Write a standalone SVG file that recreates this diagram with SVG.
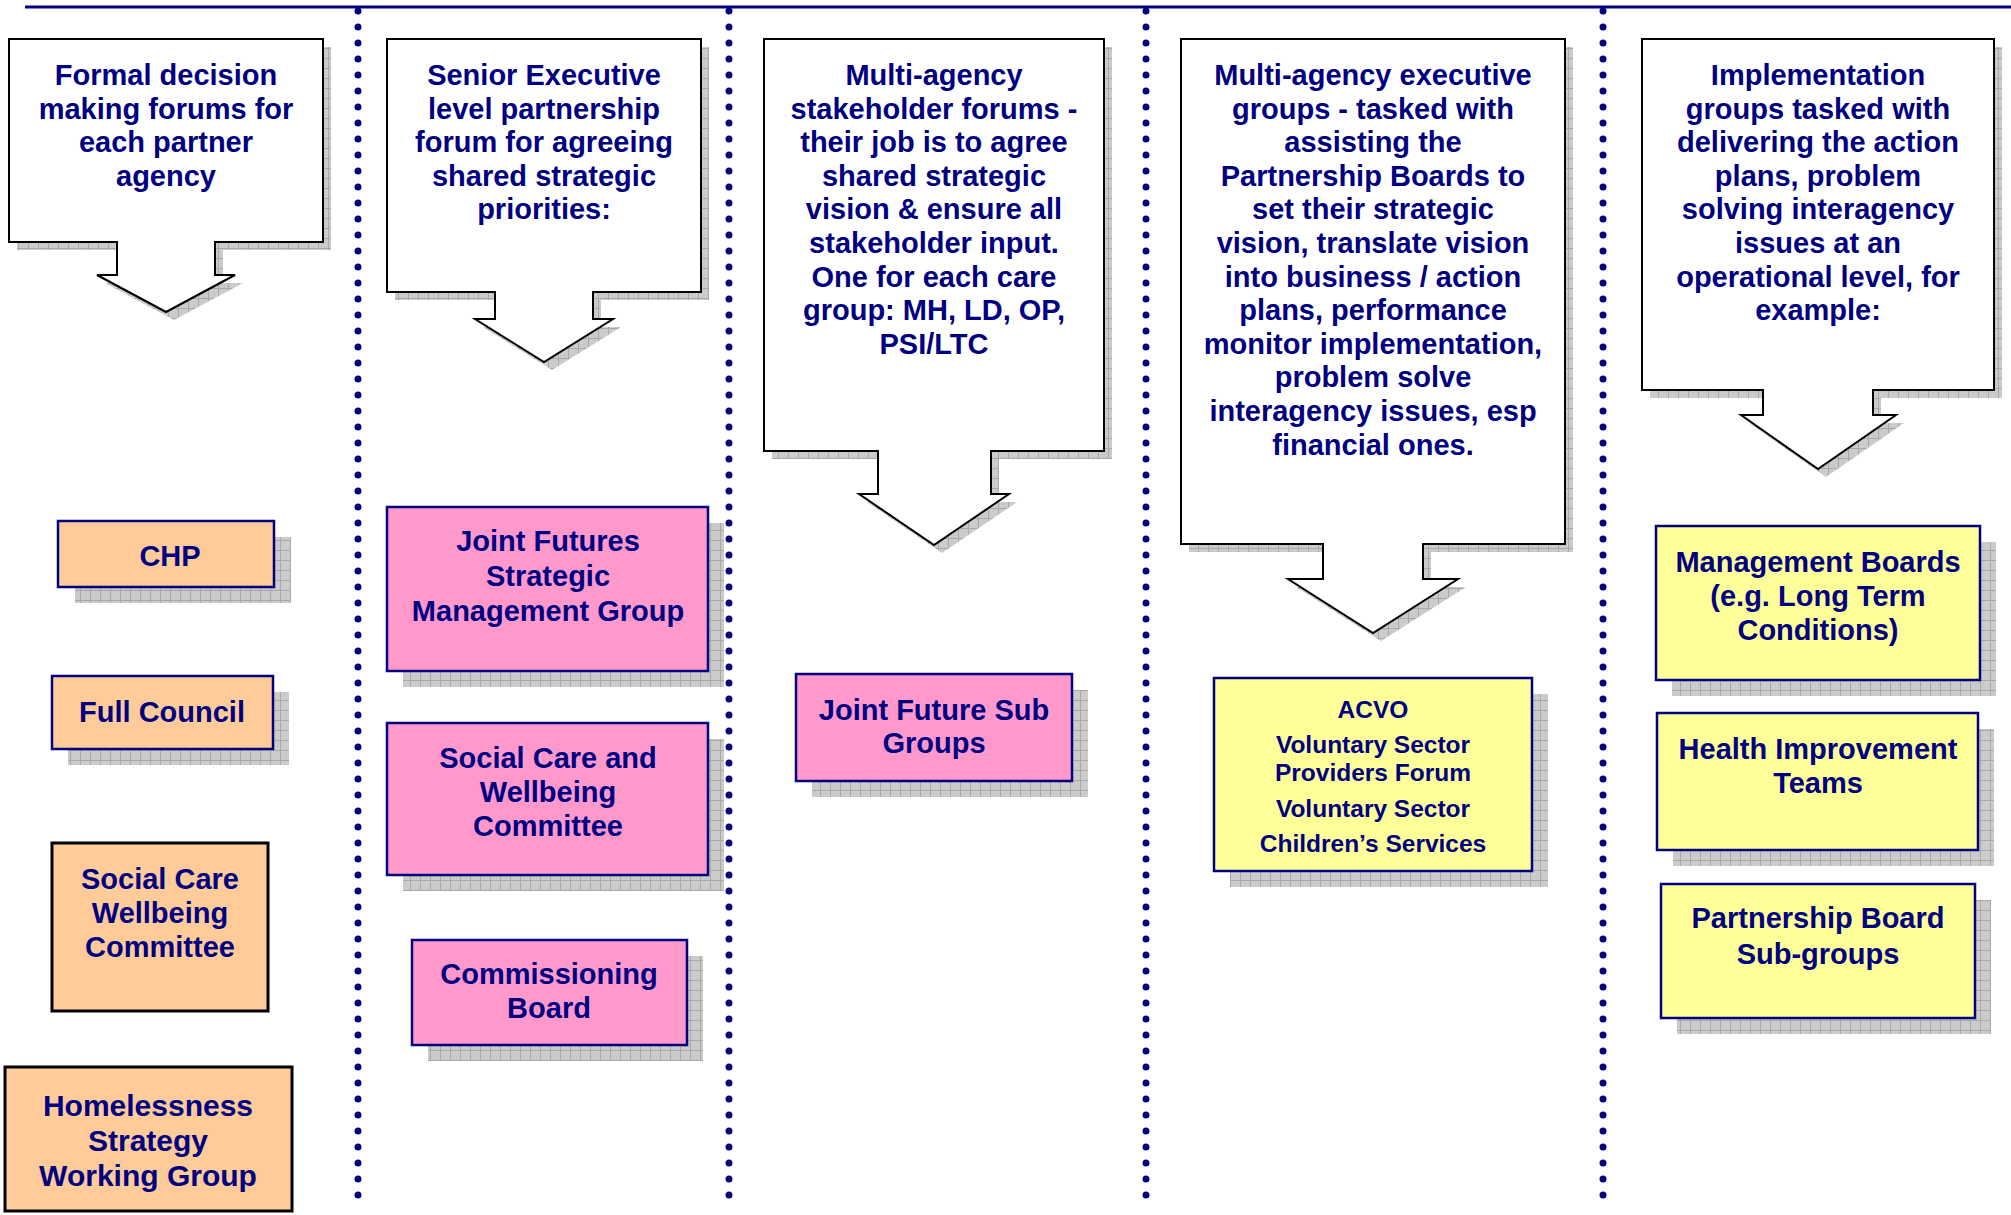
<svg xmlns="http://www.w3.org/2000/svg" width="2011" height="1215" viewBox="0 0 2011 1215">
  <style>
    .t { font-family: "Liberation Sans", Arial, sans-serif; font-weight: bold; font-size: 29px; fill: #000080; text-anchor: middle; }
    .t30 { font-size: 30px; }
    .t24 { font-size: 24.5px; }
    .callout { fill: #ffffff; stroke: #000000; stroke-width: 2; stroke-linejoin: miter; }
    .shadow { fill: url(#hatch); stroke: none; }
    .orange { fill: #ffcc99; }
    .pink { fill: #ff99cc; }
    .yellow { fill: #ffff99; }
    .navyEdge { stroke: #000080; stroke-width: 2.5; }
    .blackEdge { stroke: #000000; stroke-width: 3; }
    .divider { stroke: #000080; stroke-width: 7; stroke-linecap: round; stroke-dasharray: 0 16; fill: none; }
  </style>
  <defs>
    <pattern id="hatch" patternUnits="userSpaceOnUse" width="10" height="10">
      <rect width="10" height="10" fill="#cbcbcb"/>
      <path d="M0 0.5H10M0.5 0V10" stroke="#a9a9a9" stroke-width="1"/>
    </pattern>
  </defs>

  <rect width="2011" height="1215" fill="#ffffff"/>

  <!-- header rule and column dividers -->
  <g id="dividers">
    <line x1="25" y1="7" x2="2011" y2="7" stroke="#000080" stroke-width="3"/>
    <line class="divider" x1="358" y1="11" x2="358" y2="1197"/>
    <line class="divider" x1="729" y1="11" x2="729" y2="1197"/>
    <line class="divider" x1="1146" y1="11" x2="1146" y2="1197"/>
    <line class="divider" x1="1603" y1="11" x2="1603" y2="1197"/>
  </g>

  <!-- column headings: down-arrow callouts -->
  <g id="callout-formal">
    <path class="shadow" transform="translate(8,8)" d="M9,39H323V242H215V275H235L166,312L97,275H117V242H9Z"/>
    <path class="callout" d="M9,39H323V242H215V275H235L166,312L97,275H117V242H9Z"/>
    <text class="t"><tspan x="166" y="85">Formal decision</tspan><tspan x="166" y="118.6">making forums for</tspan><tspan x="166" y="152.2">each partner</tspan><tspan x="166" y="185.8">agency</tspan></text>
  </g>

  <g id="callout-senior">
    <path class="shadow" transform="translate(8,8)" d="M387,39H701V292H593V319H613L544,362L475,319H495V292H387Z"/>
    <path class="callout" d="M387,39H701V292H593V319H613L544,362L475,319H495V292H387Z"/>
    <text class="t"><tspan x="544" y="85">Senior Executive</tspan><tspan x="544" y="118.6">level partnership</tspan><tspan x="544" y="152.2">forum for agreeing</tspan><tspan x="544" y="185.8">shared strategic</tspan><tspan x="544" y="219.4">priorities:</tspan></text>
  </g>

  <g id="callout-stakeholder">
    <path class="shadow" transform="translate(8,8)" d="M764,39H1104V451H991V494H1009L934,545L859,494H878V451H764Z"/>
    <path class="callout" d="M764,39H1104V451H991V494H1009L934,545L859,494H878V451H764Z"/>
    <text class="t"><tspan x="934" y="85">Multi-agency</tspan><tspan x="934" y="118.6">stakeholder forums -</tspan><tspan x="934" y="152.2">their job is to agree</tspan><tspan x="934" y="185.8">shared strategic</tspan><tspan x="934" y="219.4">vision &amp; ensure all</tspan><tspan x="934" y="253">stakeholder input.</tspan><tspan x="934" y="286.6">One for each care</tspan><tspan x="934" y="320.2">group: MH, LD, OP,</tspan><tspan x="934" y="353.8">PSI/LTC</tspan></text>
  </g>

  <g id="callout-executive">
    <path class="shadow" transform="translate(8,8)" d="M1181,39H1565V544H1423V579H1458L1373,633L1288,579H1323V544H1181Z"/>
    <path class="callout" d="M1181,39H1565V544H1423V579H1458L1373,633L1288,579H1323V544H1181Z"/>
    <text class="t"><tspan x="1373" y="85">Multi-agency executive</tspan><tspan x="1373" y="118.6">groups - tasked with</tspan><tspan x="1373" y="152.2">assisting the</tspan><tspan x="1373" y="185.8">Partnership Boards to</tspan><tspan x="1373" y="219.4">set their strategic</tspan><tspan x="1373" y="253">vision, translate vision</tspan><tspan x="1373" y="286.6">into business / action</tspan><tspan x="1373" y="320.2">plans, performance</tspan><tspan x="1373" y="353.8">monitor implementation,</tspan><tspan x="1373" y="387.4">problem solve</tspan><tspan x="1373" y="421">interagency issues, esp</tspan><tspan x="1373" y="454.6">financial ones.</tspan></text>
  </g>

  <g id="callout-implementation">
    <path class="shadow" transform="translate(8,8)" d="M1642,39H1994V390H1873V415H1896L1818,469L1741,415H1763V390H1642Z"/>
    <path class="callout" d="M1642,39H1994V390H1873V415H1896L1818,469L1741,415H1763V390H1642Z"/>
    <text class="t"><tspan x="1818" y="85">Implementation</tspan><tspan x="1818" y="118.6">groups tasked with</tspan><tspan x="1818" y="152.2">delivering the action</tspan><tspan x="1818" y="185.8">plans, problem</tspan><tspan x="1818" y="219.4">solving interagency</tspan><tspan x="1818" y="253">issues at an</tspan><tspan x="1818" y="286.6">operational level, for</tspan><tspan x="1818" y="320.2">example:</tspan></text>
  </g>

  <!-- column 1: partner agency forums -->
  <g id="node-chp">
    <rect class="shadow" x="75" y="537" width="216" height="66"/>
    <rect class="orange navyEdge" x="58" y="521" width="216" height="66"/>
    <text class="t" x="170" y="566">CHP</text>
  </g>
  <g id="node-full-council">
    <rect class="shadow" x="68" y="692" width="221" height="73"/>
    <rect class="orange navyEdge" x="52" y="676" width="221" height="73"/>
    <text class="t" x="162" y="722">Full Council</text>
  </g>
  <g id="node-social-care-wellbeing">
    <rect class="orange blackEdge" x="52" y="843" width="216" height="168"/>
    <text class="t"><tspan x="160" y="889">Social Care</tspan><tspan x="160" y="923">Wellbeing</tspan><tspan x="160" y="957">Committee</tspan></text>
  </g>
  <g id="node-homelessness">
    <rect class="orange blackEdge" x="5" y="1067" width="287" height="144"/>
    <text class="t t30"><tspan x="148" y="1116">Homelessness</tspan><tspan x="148" y="1151">Strategy</tspan><tspan x="148" y="1186">Working Group</tspan></text>
  </g>

  <!-- column 2: senior partnership forums -->
  <g id="node-joint-futures">
    <rect class="shadow" x="403" y="523" width="321" height="164"/>
    <rect class="pink navyEdge" x="387" y="507" width="321" height="164"/>
    <text class="t"><tspan x="548" y="551">Joint Futures</tspan><tspan x="548" y="586">Strategic</tspan><tspan x="548" y="621">Management Group</tspan></text>
  </g>
  <g id="node-social-care-committee">
    <rect class="shadow" x="403" y="739" width="321" height="152"/>
    <rect class="pink navyEdge" x="387" y="723" width="321" height="152"/>
    <text class="t"><tspan x="548" y="768">Social Care and</tspan><tspan x="548" y="802">Wellbeing</tspan><tspan x="548" y="836">Committee</tspan></text>
  </g>
  <g id="node-commissioning">
    <rect class="shadow" x="428" y="956" width="275" height="105"/>
    <rect class="pink navyEdge" x="412" y="940" width="275" height="105"/>
    <text class="t"><tspan x="549" y="984">Commissioning</tspan><tspan x="549" y="1018">Board</tspan></text>
  </g>

  <!-- column 3: stakeholder forums -->
  <g id="node-joint-future-sub">
    <rect class="shadow" x="812" y="690" width="276" height="107"/>
    <rect class="pink navyEdge" x="796" y="674" width="276" height="107"/>
    <text class="t"><tspan x="934" y="720">Joint Future Sub</tspan><tspan x="934" y="753">Groups</tspan></text>
  </g>

  <!-- column 4: executive groups -->
  <g id="node-acvo">
    <rect class="shadow" x="1230" y="694" width="318" height="193"/>
    <rect class="yellow navyEdge" x="1214" y="678" width="318" height="193"/>
    <text class="t t24"><tspan x="1373" y="718">ACVO</tspan><tspan x="1373" y="753">Voluntary Sector</tspan><tspan x="1373" y="781">Providers Forum</tspan><tspan x="1373" y="817">Voluntary Sector</tspan><tspan x="1373" y="852">Children’s Services</tspan></text>
  </g>

  <!-- column 5: implementation groups -->
  <g id="node-management-boards">
    <rect class="shadow" x="1672" y="542" width="324" height="154"/>
    <rect class="yellow navyEdge" x="1656" y="526" width="324" height="154"/>
    <text class="t"><tspan x="1818" y="572">Management Boards</tspan><tspan x="1818" y="606">(e.g. Long Term</tspan><tspan x="1818" y="640">Conditions)</tspan></text>
  </g>
  <g id="node-health-improvement">
    <rect class="shadow" x="1673" y="729" width="321" height="137"/>
    <rect class="yellow navyEdge" x="1657" y="713" width="321" height="137"/>
    <text class="t"><tspan x="1818" y="759">Health Improvement</tspan><tspan x="1818" y="793">Teams</tspan></text>
  </g>
  <g id="node-partnership-subgroups">
    <rect class="shadow" x="1677" y="900" width="314" height="134"/>
    <rect class="yellow navyEdge" x="1661" y="884" width="314" height="134"/>
    <text class="t"><tspan x="1818" y="928">Partnership Board</tspan><tspan x="1818" y="964">Sub-groups</tspan></text>
  </g>
</svg>
